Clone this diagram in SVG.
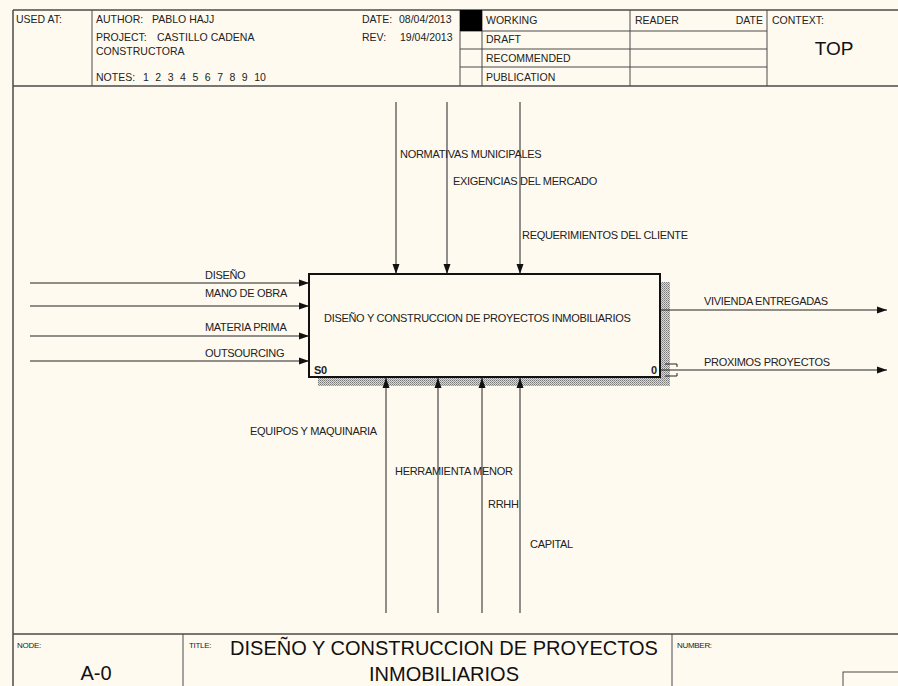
<svg xmlns="http://www.w3.org/2000/svg" width="898" height="686" viewBox="0 0 898 686">
<style>
  .frame { stroke: #4a4a4a; stroke-width: 1.5; fill: none; }
  .thin { stroke: #4a4a4a; stroke-width: 1; fill: none; }
  .h { font-family: "Liberation Sans", Arial, sans-serif; font-size: 10.5px; fill: #222; }
  .s { font-family: "Liberation Sans", Arial, sans-serif; font-size: 8px; fill: #222; letter-spacing: -0.3px; }
  .lbl { font-family: "Liberation Sans", Arial, sans-serif; font-size: 11px; fill: #222; letter-spacing: -0.3px; }
  .arrow { stroke: #222; stroke-width: 1; fill: none; marker-end: url(#ah); }
  .box { fill: #fffaf0; stroke: #111; stroke-width: 2; }
  .big { font-family: "Liberation Sans", Arial, sans-serif; fill: #111; }
</style>
<defs>
  <marker id="ah" markerUnits="userSpaceOnUse" markerWidth="10" markerHeight="8" refX="10" refY="4" orient="auto">
    <path d="M0,0.5 L10,4 L0,7.5 Z" fill="#111"/>
  </marker>
  <pattern id="hatch" width="2" height="2" patternUnits="userSpaceOnUse">
    <rect width="2" height="2" fill="#d8d8d8"/>
    <rect width="1" height="1" fill="#7a7a7a"/>
    <rect x="1" y="1" width="1" height="1" fill="#9a9a9a"/>
  </pattern>
</defs>
<rect width="898" height="686" fill="#fffaf0"/>

<g id="frame">
  <line class="frame" x1="13" y1="10" x2="898" y2="10"/>
  <line class="frame" x1="13" y1="10" x2="13" y2="686"/>
  <line class="frame" x1="13" y1="86" x2="898" y2="86"/>
  <line class="frame" x1="13" y1="634" x2="898" y2="634"/>
  <line class="thin" x1="92" y1="10" x2="92" y2="86"/>
  <line class="thin" x1="460" y1="10" x2="460" y2="86"/>
  <line class="thin" x1="482" y1="10" x2="482" y2="86"/>
  <line class="thin" x1="630" y1="10" x2="630" y2="86"/>
  <line class="thin" x1="767" y1="10" x2="767" y2="86"/>
  <line class="thin" x1="460" y1="31" x2="767" y2="31"/>
  <line class="thin" x1="460" y1="49" x2="767" y2="49"/>
  <line class="thin" x1="460" y1="67" x2="767" y2="67"/>
  <rect x="460" y="10" width="22" height="21" fill="#000"/>
  <line class="thin" x1="183" y1="634" x2="183" y2="686"/>
  <line class="thin" x1="672" y1="634" x2="672" y2="686"/>
  <rect class="thin" x="843" y="672" width="60" height="20"/>
</g>

<g id="header-text">
  <text class="h" x="16" y="23">USED AT:</text>
  <text class="h" x="96" y="23">AUTHOR:</text>
  <text class="h" x="152" y="23">PABLO HAJJ</text>
  <text class="h" x="96" y="41">PROJECT:</text>
  <text class="h" x="157" y="41">CASTILLO CADENA</text>
  <text class="h" x="96" y="55">CONSTRUCTORA</text>
  <text class="h" x="96" y="81">NOTES:</text>
  <text class="h" x="143" y="81" xml:space="preserve" word-spacing="3.6">1 2 3 4 5 6 7 8 9 10</text>
  <text class="h" x="362" y="23">DATE:</text>
  <text class="h" x="399" y="23">08/04/2013</text>
  <text class="h" x="362" y="41">REV:</text>
  <text class="h" x="400" y="41">19/04/2013</text>
  <text class="h" x="486" y="24">WORKING</text>
  <text class="h" x="486" y="43">DRAFT</text>
  <text class="h" x="486" y="62">RECOMMENDED</text>
  <text class="h" x="486" y="81">PUBLICATION</text>
  <text class="h" x="635" y="24">READER</text>
  <text class="h" x="763" y="24" text-anchor="end">DATE</text>
  <text class="h" x="772" y="24">CONTEXT:</text>
  <text class="big" x="834" y="55" font-size="19" text-anchor="middle">TOP</text>
</g>

<g id="footer-text">
  <text class="s" x="17" y="648">NODE:</text>
  <text class="big" x="96" y="680" font-size="20" text-anchor="middle">A-0</text>
  <text class="s" x="189" y="648">TITLE:</text>
  <text class="big" x="444" y="655" font-size="20" text-anchor="middle">DISEÑO Y CONSTRUCCION DE PROYECTOS</text>
  <text class="big" x="444" y="681" font-size="20" text-anchor="middle">INMOBILIARIOS</text>
  <text class="s" x="677" y="648">NUMBER:</text>
</g>

<g id="node-A0">
  <rect x="661" y="282" width="9" height="104" fill="url(#hatch)"/>
  <rect x="318" y="378" width="352" height="8" fill="url(#hatch)"/>
  <rect class="box" x="309" y="274" width="351" height="103"/>
  <text class="lbl" x="324" y="322">DISEÑO Y CONSTRUCCION DE PROYECTOS INMOBILIARIOS</text>
  <text class="lbl" x="314" y="374" font-weight="bold" font-size="10">S0</text>
  <text class="lbl" x="651" y="374" font-weight="bold" font-size="10">0</text>
</g>

<g id="connectors">
  <line class="arrow" x1="30" y1="283" x2="309" y2="283"/>
  <line class="arrow" x1="30" y1="306" x2="309" y2="306"/>
  <line class="arrow" x1="30" y1="336" x2="309" y2="336"/>
  <line class="arrow" x1="30" y1="361" x2="309" y2="361"/>
  <line class="arrow" x1="396" y1="102" x2="396" y2="274"/>
  <line class="arrow" x1="447" y1="102" x2="447" y2="274"/>
  <line class="arrow" x1="520" y1="102" x2="520" y2="274"/>
  <line class="arrow" x1="386" y1="613" x2="386" y2="378"/>
  <line class="arrow" x1="438" y1="613" x2="438" y2="378"/>
  <line class="arrow" x1="482" y1="613" x2="482" y2="378"/>
  <line class="arrow" x1="520" y1="613" x2="520" y2="378"/>
  <line class="arrow" x1="661" y1="310" x2="887" y2="310"/>
  <line class="arrow" x1="661" y1="370" x2="887" y2="370"/>
  <path d="M665,364 H677 V367 M665,376 H677 V373" stroke="#222" stroke-width="1" fill="none"/>
</g>

<g id="labels">
  <text class="lbl" x="205" y="279">DISEÑO</text>
  <text class="lbl" x="205" y="297">MANO DE OBRA</text>
  <text class="lbl" x="205" y="331">MATERIA PRIMA</text>
  <text class="lbl" x="205" y="357">OUTSOURCING</text>
  <text class="lbl" x="400" y="158">NORMATIVAS MUNICIPALES</text>
  <text class="lbl" x="453" y="185">EXIGENCIAS DEL MERCADO</text>
  <text class="lbl" x="522" y="239">REQUERIMIENTOS DEL CLIENTE</text>
  <text class="lbl" x="250" y="435">EQUIPOS Y MAQUINARIA</text>
  <text class="lbl" x="395" y="475">HERRAMIENTA MENOR</text>
  <text class="lbl" x="488" y="508">RRHH</text>
  <text class="lbl" x="530" y="548">CAPITAL</text>
  <text class="lbl" x="704" y="305">VIVIENDA ENTREGADAS</text>
  <text class="lbl" x="704" y="366">PROXIMOS PROYECTOS</text>
</g>
</svg>
